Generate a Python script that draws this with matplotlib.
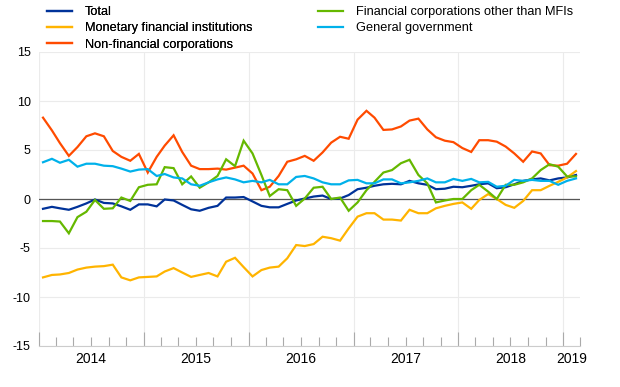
import numpy as np
import pandas as pd
import matplotlib
matplotlib.use("Agg")
import matplotlib.pyplot as plt
import matplotlib.dates as mdates

plt.rcParams['font.family'] = ['Liberation Sans', 'DejaVu Sans']

dates = pd.date_range('2014-01-01', periods=62, freq='MS') + pd.Timedelta(days=14)

total = [-1.0, -0.8, -0.95, -1.1, -0.8, -0.45, -0.05, -0.4, -0.45, -0.75, -1.1, -0.55, -0.55,
         -0.75, -0.05, -0.15, -0.6, -1.05, -1.2, -0.9, -0.7, 0.15, 0.15, 0.2, -0.25,
         -0.7, -0.85, -0.85, -0.5, -0.15, 0.05, 0.25, 0.35, 0.0, 0.05, 0.4, 1.0,
         1.15, 1.35, 1.5, 1.55, 1.5, 1.85, 1.6, 1.45, 1.0, 1.05, 1.25, 1.2,
         1.35, 1.5, 1.6, 1.1, 1.2, 1.5, 1.85, 2.0, 2.1, 1.9, 2.1, 2.2, 2.45]

mfi = [-8.0, -7.75, -7.7, -7.55, -7.2, -7.0, -6.9, -6.85, -6.7, -8.0, -8.3, -8.0, -7.95,
       -7.9, -7.4, -7.05, -7.5, -7.95, -7.75, -7.55, -7.9, -6.4, -6.0, -6.95, -7.9,
       -7.25, -7.0, -6.9, -6.05, -4.7, -4.8, -4.6, -3.85, -4.0, -4.25, -3.0, -1.8,
       -1.45, -1.45, -2.1, -2.1, -2.2, -1.1, -1.45, -1.45, -0.95, -0.7, -0.5, -0.35,
       -1.0, -0.1, 0.5, 0.0, -0.6, -0.9, -0.2, 0.9, 0.9, 1.35, 1.75, 2.2, 2.85]

nfc = [8.3, 7.0, 5.7, 4.4, 5.3, 6.4, 6.7, 6.4, 4.9, 4.3, 3.9, 4.6, 2.7,
       4.3, 5.45, 6.5, 4.8, 3.4, 3.05, 3.05, 3.1, 3.0, 3.2, 3.4, 2.6,
       0.9, 1.25, 2.35, 3.8, 4.05, 4.4, 3.9, 4.75, 5.75, 6.35, 6.15, 8.1,
       9.0, 8.3, 7.05, 7.1, 7.4, 8.0, 8.2, 7.1, 6.3, 5.95, 5.8, 5.2,
       4.8, 6.0, 6.0, 5.85, 5.35, 4.65, 3.8, 4.85, 4.65, 3.45, 3.4, 3.6, 4.6]

ofi = [-2.25, -2.25, -2.3, -3.5, -1.85, -1.3, -0.1, -1.0, -0.95, 0.15, -0.2, 1.2, 1.45,
       1.5, 3.25, 3.15, 1.5, 2.3, 1.15, 1.7, 2.35, 4.05, 3.35, 5.95, 4.65,
       2.45, 0.3, 1.0, 0.9, -0.7, 0.05, 1.15, 1.25, 0.0, 0.15, -1.2, -0.35,
       0.9, 1.75, 2.7, 2.95, 3.65, 4.0, 2.45, 1.6, -0.35, -0.15, 0.0, 0.0,
       0.9, 1.45, 0.75, 0.0, 1.45, 1.45, 1.7, 2.1, 2.95, 3.55, 3.3, 2.3, 2.3]

gg = [3.75, 4.1, 3.7, 4.0, 3.3, 3.6, 3.6, 3.4, 3.35, 3.1, 2.8, 3.0, 3.05,
      2.35, 2.55, 2.2, 2.1, 1.5, 1.35, 1.7, 2.0, 2.2, 2.0, 1.7, 1.85,
      1.7, 1.95, 1.5, 1.5, 2.25, 2.35, 2.1, 1.7, 1.5, 1.5, 1.9, 1.95,
      1.6, 1.6, 2.0, 2.0, 1.6, 1.7, 1.85, 2.1, 1.7, 1.7, 2.05, 1.85,
      2.05, 1.7, 1.75, 1.25, 1.35, 1.95, 1.85, 1.95, 1.85, 1.85, 1.45, 1.85, 2.1]

labels = ["Total", "Monetary financial institutions", "Non-financial corporations",
          "Financial corporations other than MFIs", "General government"]
colors = ["#003299", "#FFB400", "#FF4B00", "#65B800", "#00B1EA"]
year_labels = ["2014", "2015", "2016", "2017", "2018", "2019"]
yticks = [-15, -10, -5, 0, 5, 10, 15]

fig = plt.figure(figsize=(6.2, 3.87), dpi=100)
ax = fig.add_axes([39/620, 1 - 346/387, (580 - 39)/620, (346 - 52)/387])

series = [total, mfi, nfc, ofi, gg]
handles = []
for vals, lab, col in zip(series, labels, colors):
    h, = ax.plot(dates, vals, color=col, lw=1.6, label=lab, solid_joinstyle='miter', zorder=3)
    handles.append(h)

ax.axhline(0, color="#555555", lw=0.9, zorder=2)

x0 = pd.Timestamp('2014-01-01')
x1 = pd.Timestamp('2019-03-01')
ax.set_xlim(x0, x1)
ax.set_ylim(-15, 15)
ax.set_yticks(yticks)
ax.set_yticklabels([str(v) for v in yticks])
ax.tick_params(axis='y', length=0, pad=6, labelsize=9, colors='#000000')

ax.xaxis.set_major_locator(mdates.YearLocator())
ax.xaxis.set_minor_locator(mdates.MonthLocator(bymonth=[3, 5, 7, 9, 11]))
ax.xaxis.set_major_formatter(plt.NullFormatter())
ax.tick_params(axis='x', which='major', direction='in', length=10, width=0.8, color='#aaaaaa')
ax.tick_params(axis='x', which='minor', direction='in', length=6.5, width=0.8, color='#aaaaaa')

for s in ['top', 'right', 'left']:
    ax.spines[s].set_visible(False)
ax.spines['bottom'].set_color('#cccccc')
ax.spines['bottom'].set_linewidth(0.8)

ax.grid(axis='y', color='#ebebeb', lw=0.8, zorder=0)
ax.grid(axis='x', which='major', color='#ebebeb', lw=0.8, zorder=0)
ax.axvline(x0, color='#ebebeb', lw=0.8, zorder=0)

label_pos = [pd.Timestamp(f'{y}-07-01') for y in range(2014, 2019)] + [pd.Timestamp('2019-02-01')]
for pos, lab in zip(label_pos, year_labels):
    ax.annotate(lab, xy=(mdates.date2num(pos), 0), xycoords=('data', 'axes fraction'),
                xytext=(0, -4), textcoords='offset points', ha='center', va='top', fontsize=10)

leg_kw = dict(loc='upper left', frameon=False, fontsize=9.2, handlelength=1.95,
              handletextpad=1.0, labelspacing=0.35, borderpad=0, borderaxespad=0)
leg1 = fig.legend(handles[:3], labels[:3], bbox_to_anchor=(47/620, 1 - 6/387), **leg_kw)
leg2 = fig.legend(handles[3:], labels[3:], bbox_to_anchor=(318/620, 1 - 6/387), **leg_kw)
fig.add_artist(leg1)

fig.savefig("out.png", dpi=100)
